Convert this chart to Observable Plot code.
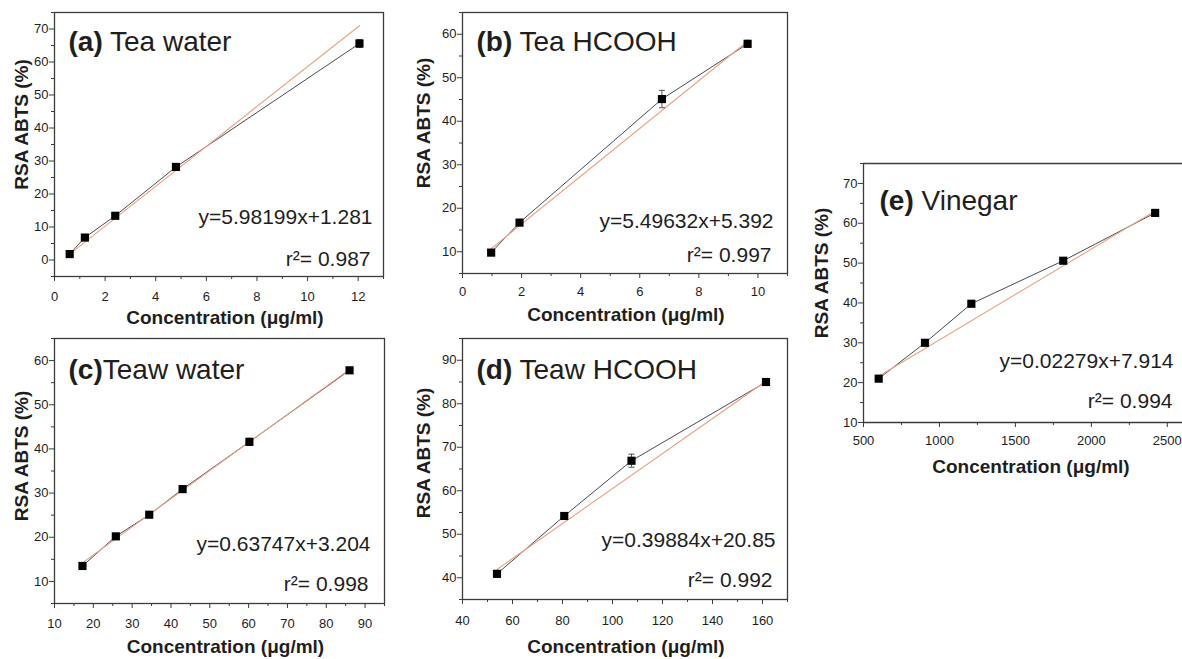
<!DOCTYPE html>
<html>
<head>
<meta charset="utf-8">
<script src="https://cdn.jsdelivr.net/npm/d3@7"></script>
<script src="https://cdn.jsdelivr.net/npm/@observablehq/plot@0.6"></script>
<style>
  html, body { margin: 0; padding: 0; background: #fff; overflow: hidden; }
  #root { position: relative; width: 1182px; height: 659px; overflow: hidden; background: #fff; }
  .panel { position: absolute; }
  .panel svg { overflow: visible; max-width: none !important; display: block; }
</style>
</head>
<body>
<div id="root"></div>
<script>
// ---------- data ----------
const concA = [0.6, 1.2, 2.4, 4.8, 12.05];
const rsaA  = [1.8, 6.8, 13.4, 28.2, 65.6];
const errA  = [0.4, 0.4, 0.4, 0.5, 1.2];
const fitA  = [1.8, 71.0];            // fitted line at first / last concentration

const concB = [0.97, 1.93, 6.75, 9.65];
const rsaB  = [9.8, 16.7, 45.1, 57.8];
const errB  = [0.4, 0.4, 2.0, 0.8];
const fitB  = [10.7, 58.4];

const concC = [17.2, 25.8, 34.4, 43.0, 60.2, 86.0];
const rsaC  = [13.5, 20.2, 25.1, 30.9, 41.6, 57.8];
const errC  = [0.3, 0.3, 0.3, 0.3, 0.8, 0.3];
const fitC  = [14.2, 58.0];

const concD = [53.8, 80.7, 107.6, 161.4];
const rsaD  = [40.9, 54.2, 66.9, 85.0];
const errD  = [0.4, 0.5, 1.5, 0.4];
const fitD  = [41.9, 85.2];

const concE = [600, 905, 1210, 1815, 2420];
const rsaE  = [21.0, 30.0, 39.8, 50.6, 62.6];
const errE  = [0.4, 0.5, 0.5, 0.5, 0.4];
const fitE  = [21.6, 63.1];

const panelLetters = ["(a)", "(b)", "(c)", "(d)", "(e)"];
const panelNames   = [" Tea water", " Tea HCOOH", "Teaw water", " Teaw HCOOH", " Vinegar"];
const equations    = ["y=5.98199x+1.281", "y=5.49632x+5.392", "y=0.63747x+3.204", "y=0.39884x+20.85", "y=0.02279x+7.914"];
const r2Labels     = ["r\u00B2= 0.987", "r\u00B2= 0.997", "r\u00B2= 0.998", "r\u00B2= 0.992", "r\u00B2= 0.994"];

const xTicksA = [0, 2, 4, 6, 8, 10, 12];             const xMinorA = [1, 3, 5, 7, 9, 11, 13];
const yTicksA = [0, 10, 20, 30, 40, 50, 60, 70];     const yMinorA = [-5, 5, 15, 25, 35, 45, 55, 65, 75];
const xTicksB = [0, 2, 4, 6, 8, 10];                 const xMinorB = [1, 3, 5, 7, 9, 11];
const yTicksB = [10, 20, 30, 40, 50, 60];            const yMinorB = [5, 15, 25, 35, 45, 55, 65];
const xTicksC = [10, 20, 30, 40, 50, 60, 70, 80, 90]; const xMinorC = [15, 25, 35, 45, 55, 65, 75, 85, 95];
const yTicksC = [10, 20, 30, 40, 50, 60];            const yMinorC = [5, 15, 25, 35, 45, 55, 65];
const xTicksD = [40, 60, 80, 100, 120, 140, 160];    const xMinorD = [50, 70, 90, 110, 130, 150, 170];
const yTicksD = [40, 50, 60, 70, 80, 90];            const yMinorD = [35, 45, 55, 65, 75, 85, 95];
const xTicksE = [500, 1000, 1500, 2000, 2500];       const xMinorE = [750, 1250, 1750, 2250];
const yTicksE = [10, 20, 30, 40, 50, 60, 70];        const yMinorE = [15, 25, 35, 45, 55, 65, 75];

const xTitle = "Concentration (\u03BCg/ml)";
const yTitle = "RSA ABTS (%)";

// ---------- layout ----------
const FONT = "'Liberation Sans', Arial, Helvetica, sans-serif";
const INK = "#1e1e1e";
const LINE = "#4a4a58";
const FIT = "#eaa282";
const FRAME = "#3c3c3c";

const panels = [
  {conc: concA, rsa: rsaA, err: errA, fit: fitA, xT: xTicksA, xM: xMinorA, yT: yTicksA, yM: yMinorA,
   xDom: [0, 13], yDom: [-5, 75], openRight: false,
   left: 0, top: 0, w: 400, h: 320, mL: 54, mT: 12, mR: 17, mB: 44,
   xPad: 10, titleDx: 14, titleDy: 38, eqDx: -11, eqDy: -53, r2Dx: -13, r2Dy: -11,
   yLab: [-27, -20], xLab: [6, 47]},
  {conc: concB, rsa: rsaB, err: errB, fit: fitB, xT: xTicksB, xM: xMinorB, yT: yTicksB, yM: yMinorB,
   xDom: [0, 11], yDom: [5, 65], openRight: false,
   left: 400, top: 0, w: 400, h: 320, mL: 62, mT: 12, mR: 13, mB: 47,
   xPad: 8, titleDx: 14, titleDy: 38, eqDx: -14, eqDy: -46, r2Dx: -16, r2Dy: -12,
   yLab: [-33, -20], xLab: [1, 47]},
  {conc: concC, rsa: rsaC, err: errC, fit: fitC, xT: xTicksC, xM: xMinorC, yT: yTicksC, yM: yMinorC,
   xDom: [10, 95], yDom: [5, 65], openRight: false,
   left: 0, top: 320, w: 400, h: 339, mL: 54, mT: 18, mR: 16, mB: 56,
   xPad: 10, titleDx: 14, titleDy: 40, eqDx: -14, eqDy: -53, r2Dx: -16, r2Dy: -13,
   yLab: [-27, -15], xLab: [6, 49]},
  {conc: concD, rsa: rsaD, err: errD, fit: fitD, xT: xTicksD, xM: xMinorD, yT: yTicksD, yM: yMinorD,
   xDom: [40, 170], yDom: [35, 95], openRight: false,
   left: 400, top: 320, w: 400, h: 339, mL: 62, mT: 18, mR: 13, mB: 60,
   xPad: 11, titleDx: 14, titleDy: 40, eqDx: -12, eqDy: -53, r2Dx: -15, r2Dy: -13,
   yLab: [-33, -16], xLab: [1, 53]},
  {conc: concE, rsa: rsaE, err: errE, fit: fitE, xT: xTicksE, xM: xMinorE, yT: yTicksE, yM: yMinorE,
   xDom: [500, 2600], yDom: [10, 75], openRight: true,
   left: 790, top: 150, w: 392, h: 340, mL: 73, mT: 13, mR: 0, mB: 68,
   xPad: 8, titleDx: 16, titleDy: 46, eqDx: -9, eqDy: -55, r2Dx: -10, r2Dy: -15,
   yLab: [-36, -20], xLab: [8, 50]}
];

const capSymbol = {
  draw(context, size) {
    const w = Math.sqrt(size) / 2;
    context.moveTo(-w, 0);
    context.lineTo(w, 0);
  }
};

const root = document.getElementById("root");

panels.forEach((p, i) => {
  const pts = p.conc.map((c, k) => ({x: c, y: p.rsa[k], lo: p.rsa[k] - p.err[k], hi: p.rsa[k] + p.err[k]}));
  const fitPts = [
    {x: p.conc[0], y: p.fit[0]},
    {x: p.conc[p.conc.length - 1], y: p.fit[1]}
  ];
  const caps = pts.flatMap(d => [{x: d.x, y: d.lo}, {x: d.x, y: d.hi}]);
  const fmt = d => String(d);
  const titleString = panelLetters[i] + panelNames[i];

  const border = p.openRight
    ? [Plot.ruleY([p.yDom[0], p.yDom[1]], {stroke: FRAME, strokeWidth: 1.3}),
       Plot.ruleX([p.xDom[0]], {stroke: FRAME, strokeWidth: 1.3})]
    : [Plot.frame({stroke: FRAME, strokeWidth: 1.3})];

  const chart = Plot.plot({
    width: p.w, height: p.h,
    marginLeft: p.mL, marginTop: p.mT, marginRight: p.mR, marginBottom: p.mB,
    x: {domain: p.xDom},
    y: {domain: p.yDom},
    style: {fontFamily: FONT, fontSize: "13px", color: INK, background: "transparent"},
    marks: [
      Plot.axisX(p.xT, {tickSize: 5, tickPadding: p.xPad, tickFormat: fmt, label: null, stroke: FRAME, fill: INK}),
      Plot.axisX(p.xM, {tickSize: 3, text: null, label: null, stroke: FRAME}),
      Plot.axisY(p.yT, {tickSize: 5, tickPadding: 1, tickFormat: fmt, label: null, stroke: FRAME, fill: INK}),
      Plot.axisY(p.yM, {tickSize: 3, text: null, label: null, stroke: FRAME}),
      Plot.line(pts, {x: "x", y: "y", stroke: LINE, strokeWidth: 1}),
      Plot.line(fitPts, {x: "x", y: "y", stroke: FIT, strokeWidth: 1.1}),
      Plot.ruleX(pts, {x: "x", y1: "lo", y2: "hi", stroke: "#555", strokeWidth: 1}),
      Plot.dot(caps, {x: "x", y: "y", symbol: capSymbol, r: 3.4, stroke: "#555", strokeWidth: 1, fill: "none"}),
      Plot.dot(pts, {x: "x", y: "y", symbol: "square", r: 4.6, fill: "#000", stroke: "none"}),
      ...border,
      Plot.text([titleString], {text: d => d, frameAnchor: "top-left", dx: p.titleDx, dy: p.titleDy,
        textAnchor: "start", lineAnchor: "bottom", fontSize: 28, fill: INK}),
      Plot.text([equations[i]], {text: d => d, frameAnchor: "bottom-right", dx: p.eqDx, dy: p.eqDy,
        textAnchor: "end", lineAnchor: "bottom", fontSize: 21, fill: INK}),
      Plot.text([r2Labels[i]], {text: d => d, frameAnchor: "bottom-right", dx: p.r2Dx, dy: p.r2Dy,
        textAnchor: "end", lineAnchor: "bottom", fontSize: 21, fill: INK}),
      Plot.text([xTitle], {text: d => d, frameAnchor: "bottom", dx: p.xLab[0], dy: p.xLab[1],
        textAnchor: "middle", lineAnchor: "bottom", fontSize: 19, fontWeight: "bold", fill: INK}),
      Plot.text([yTitle], {text: d => d, frameAnchor: "left", dx: p.yLab[0], dy: p.yLab[1], rotate: -90,
        textAnchor: "middle", lineAnchor: "bottom", fontSize: 19, fontWeight: "bold", fill: INK})
    ]
  });

  const svg = d3.select(chart);
  // tick label size
  svg.selectAll("g[aria-label$='tick label']").attr("font-size", 13)
     .selectAll("text").attr("font-size", 13);
  // panel title: bold letter + regular name as tspans of the same text element
  svg.selectAll("text").filter(function() { return this.textContent === titleString; }).each(function() {
    const t = d3.select(this);
    t.selectAll("*").remove();
    t.text(null);
    t.attr("xml:space", "preserve").style("white-space", "pre");
    t.append("tspan").attr("font-weight", "bold").text(panelLetters[i]);
    t.append("tspan").attr("font-weight", "normal").text(panelNames[i]);
  });

  const div = document.createElement("div");
  div.className = "panel";
  div.style.left = p.left + "px";
  div.style.top = p.top + "px";
  div.style.width = p.w + "px";
  div.style.height = p.h + "px";
  div.appendChild(chart);
  root.appendChild(div);
});
</script>
</body>
</html>
